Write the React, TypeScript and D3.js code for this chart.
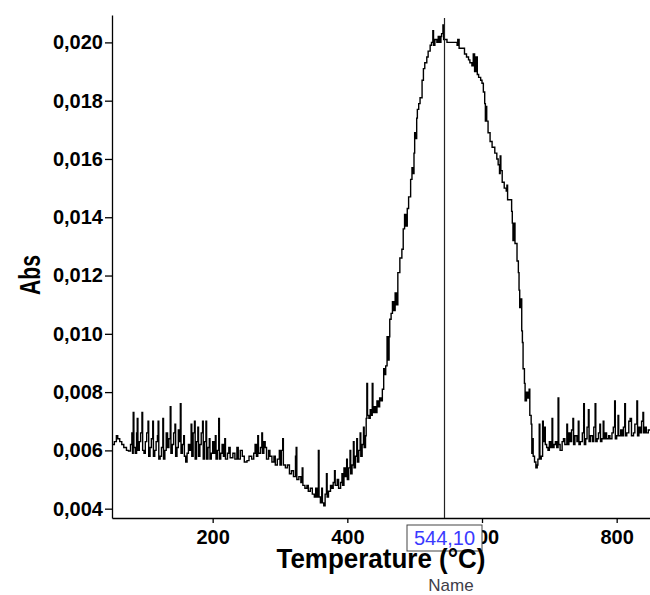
import React, { useEffect, useRef } from "react";
import * as d3 from "d3";

// temperature (°C), absorbance
const scan: [number, number][] = [
  [51, 0.0062], [54, 0.0063], [57, 0.0065], [59, 0.0064], [62, 0.0063], [65, 0.0062], [68, 0.0061], [72, 0.006],
  [75, 0.00598], [78, 0.0062], [80, 0.0066], [81, 0.0059], [82, 0.0073], [83, 0.0061], [85, 0.0059], [87, 0.0066],
  [88, 0.0071], [89, 0.006], [91, 0.0063], [93, 0.0066], [95, 0.0073], [96, 0.006], [98, 0.0059], [100, 0.0063],
  [102, 0.0066], [104, 0.007], [105, 0.0058], [107, 0.0061], [109, 0.0064], [111, 0.007], [112, 0.0058], [114, 0.006],
  [116, 0.0063], [118, 0.0065], [119, 0.007], [120, 0.0057], [122, 0.0058], [124, 0.0061], [126, 0.0071], [127, 0.0057],
  [129, 0.006], [131, 0.0066], [133, 0.0061], [135, 0.0064], [137, 0.0075], [138, 0.0059], [140, 0.0062], [142, 0.0066],
  [144, 0.0069], [145, 0.0058], [147, 0.0061], [149, 0.0067], [150, 0.0063], [152, 0.0076], [153, 0.0059], [155, 0.0062],
  [157, 0.0065], [158, 0.0058], [160, 0.0056], [162, 0.0059], [164, 0.0062], [166, 0.006], [168, 0.0069], [169, 0.0058],
  [171, 0.0066], [173, 0.007], [174, 0.0057], [176, 0.0063], [178, 0.0068], [179, 0.0058], [181, 0.0062], [183, 0.0066],
  [185, 0.007], [186, 0.0057], [188, 0.0063], [190, 0.007], [191, 0.0057], [193, 0.0061], [195, 0.0064], [196, 0.0057],
  [198, 0.0059], [200, 0.0063], [202, 0.0059], [204, 0.0065], [205, 0.0057], [207, 0.006], [209, 0.0071], [210, 0.0057],
  [212, 0.0059], [214, 0.0062], [216, 0.0058], [218, 0.0064], [219, 0.0057], [222, 0.0059], [224, 0.0061], [226, 0.00575],
  [230, 0.0059], [233, 0.0057], [236, 0.0061], [238, 0.0057], [241, 0.006], [244, 0.0058], [247, 0.0056], [251, 0.00565],
  [254, 0.0058], [258, 0.0057], [261, 0.0059], [263, 0.0062], [265, 0.0058], [267, 0.0065], [268, 0.0059], [271, 0.0061],
  [273, 0.0066], [274, 0.0059], [276, 0.0063], [278, 0.0061], [280, 0.0057], [283, 0.006], [285, 0.0058], [288, 0.0056],
  [291, 0.0058], [293, 0.0055], [296, 0.0057], [299, 0.006], [300, 0.0055], [302, 0.006], [304, 0.0064], [305, 0.0055],
  [308, 0.0054], [311, 0.0055], [314, 0.0052], [317, 0.0053], [320, 0.0051], [323, 0.0058], [324, 0.0061], [325, 0.005],
  [328, 0.0051], [331, 0.0049], [333, 0.0054], [334, 0.0048], [337, 0.0047], [340, 0.0048], [342, 0.0046], [345, 0.0047],
  [348, 0.0045], [351, 0.0044], [353, 0.0047], [355, 0.0044], [357, 0.006], [358, 0.0044], [360, 0.0042], [362, 0.0047],
  [363, 0.0042], [365, 0.0041], [367, 0.0045], [369, 0.0052], [370, 0.0044], [372, 0.0046], [375, 0.0048], [377, 0.0047],
  [379, 0.0049], [381, 0.0053], [382, 0.0048], [385, 0.005], [387, 0.0047], [390, 0.0049], [392, 0.0052], [393, 0.0048],
  [395, 0.0054], [397, 0.0051], [399, 0.0057], [400, 0.005], [402, 0.0054], [404, 0.006], [405, 0.0052], [407, 0.0055],
  [409, 0.0063], [410, 0.0054], [412, 0.0058], [414, 0.0064], [415, 0.0056], [417, 0.006], [419, 0.0066], [420, 0.0058],
  [422, 0.0062], [424, 0.0068], [425, 0.0061], [427, 0.0065], [428, 0.0071], [429, 0.0083], [430, 0.0072], [432, 0.0071],
  [434, 0.0074], [436, 0.0072], [437, 0.0083], [438, 0.0073], [440, 0.0075], [442, 0.0073], [444, 0.0077], [446, 0.0075],
  [448, 0.0078], [450, 0.0077], [452, 0.0081], [454, 0.0088], [455, 0.0086], [457, 0.0089], [459, 0.0099], [460, 0.0091],
  [462, 0.0099], [463, 0.0105], [465, 0.0107], [467, 0.0111], [469, 0.0108], [471, 0.0114], [473, 0.011], [475, 0.0121],
  [478, 0.0126], [481, 0.0129], [483, 0.0136], [485, 0.0141], [487, 0.0137], [489, 0.0143], [491, 0.0147], [494, 0.0153],
  [496, 0.0157], [497, 0.0155], [499, 0.0162], [500, 0.0169], [501, 0.0167], [503, 0.0174], [504, 0.0177], [506, 0.0179],
  [508, 0.0181], [511, 0.0187], [513, 0.0191], [515, 0.0193], [518, 0.0195], [520, 0.0197], [523, 0.0199], [525, 0.02],
  [527, 0.0204], [528, 0.0199], [530, 0.0201], [533, 0.02], [535, 0.0202], [537, 0.02], [539, 0.0202], [540, 0.0203],
  [542, 0.0206], [543, 0.0201], [545, 0.0201], [548, 0.02], [552, 0.02], [556, 0.02], [560, 0.02], [563, 0.0199],
  [564, 0.0201], [566, 0.0198], [570, 0.0198], [574, 0.0196], [577, 0.0195], [580, 0.0194], [582, 0.0193], [585, 0.0192],
  [587, 0.0196], [589, 0.019], [591, 0.0195], [593, 0.0189], [595, 0.0188], [598, 0.0187], [600, 0.0186], [602, 0.0183],
  [604, 0.0179], [605, 0.0173], [606, 0.0178], [607, 0.0173], [609, 0.0169], [612, 0.0166], [615, 0.0164], [619, 0.0162],
  [622, 0.016], [624, 0.0158], [626, 0.0155], [627, 0.0161], [628, 0.0156], [630, 0.0152], [633, 0.015], [636, 0.0149],
  [637, 0.0151], [638, 0.0146], [641, 0.0146], [644, 0.0142], [645, 0.0138], [646, 0.0132], [647, 0.0138], [649, 0.0131],
  [652, 0.0125], [654, 0.0121], [655, 0.0115], [656, 0.0109], [657, 0.0112], [659, 0.0101], [660, 0.0097], [661, 0.0088],
  [663, 0.0083], [664, 0.0077], [666, 0.008], [668, 0.0078], [670, 0.0081], [671, 0.0072], [673, 0.0069], [674, 0.0059],
  [675, 0.0064], [676, 0.0058], [678, 0.0056], [680, 0.0054], [682, 0.0055], [683, 0.0057], [685, 0.0069], [686, 0.0057],
  [688, 0.0058], [690, 0.007], [691, 0.0063], [693, 0.0068], [694, 0.0062], [696, 0.0061], [698, 0.006], [700, 0.0063],
  [702, 0.0061], [704, 0.0071], [705, 0.0061], [707, 0.0062], [709, 0.0063], [711, 0.0061], [713, 0.0078], [714, 0.0062],
  [716, 0.006], [719, 0.0063], [721, 0.0064], [723, 0.0062], [726, 0.0069], [727, 0.0062], [729, 0.0066], [731, 0.0063],
  [733, 0.0067], [735, 0.0071], [736, 0.0062], [738, 0.0065], [741, 0.0063], [743, 0.007], [744, 0.0062], [746, 0.0063],
  [749, 0.0066], [751, 0.0076], [752, 0.0062], [754, 0.0064], [756, 0.0068], [758, 0.0074], [759, 0.0063], [761, 0.0065],
  [764, 0.0063], [766, 0.0068], [768, 0.0076], [769, 0.0063], [771, 0.0064], [773, 0.0066], [775, 0.0069], [776, 0.0063],
  [778, 0.0064], [780, 0.007], [781, 0.0064], [783, 0.0066], [785, 0.0064], [788, 0.0065], [790, 0.0064], [793, 0.0066],
  [795, 0.0068], [797, 0.0077], [798, 0.0064], [800, 0.0065], [802, 0.0072], [803, 0.0065], [806, 0.0067], [808, 0.0065],
  [810, 0.0068], [812, 0.0076], [813, 0.0065], [815, 0.0066], [818, 0.007], [820, 0.0071], [822, 0.0065], [825, 0.0066],
  [827, 0.0069], [830, 0.0077], [831, 0.0065], [833, 0.0068], [835, 0.0066], [837, 0.007], [839, 0.0073], [840, 0.0066],
  [842, 0.0068], [844, 0.0066], [847, 0.0067], [850, 0.0067],
];

const xTicks = [200, 400, 600, 800];
const yTicks = [0.004, 0.006, 0.008, 0.01, 0.012, 0.014, 0.016, 0.018, 0.02];
const cursorTemp = 544.1;
const cursorLabel = "544,10";
const xTitle = "Temperature (°C)";
const yTitle = "Abs";
const seriesName = "Name";

const W = 650;
const H = 595;
const FONT = "'Liberation Sans', Arial, sans-serif";

export default function App() {
  const ref = useRef<SVGSVGElement | null>(null);

  useEffect(() => {
    const svg = d3.select(ref.current);
    svg.selectAll("*").remove();

    const x = d3.scaleLinear().domain([50.5, 849.5]).range([112, 650]);
    const y = d3.scaleLinear().domain([0.00368, 0.02094]).range([518, 15]);

    const comma = (v: number) => d3.format(".3f")(v).replace(".", ",");

    // y axis
    const gy = svg.append("g").attr("transform", `translate(${x.range()[0]},0)`)
      .call(d3.axisLeft(y).tickValues(yTicks).tickSize(7).tickSizeOuter(0).tickPadding(2).tickFormat((d: any) => comma(+d)));
    gy.selectAll("text").attr("font-family", FONT).attr("font-weight", "bold").attr("font-size", 20).attr("fill", "#000");

    // x axis
    const gx = svg.append("g").attr("transform", `translate(0,${y.range()[0]})`)
      .call(d3.axisBottom(x).tickValues(xTicks).tickSize(5).tickSizeOuter(0).tickPadding(7).tickFormat(d3.format("d")));
    gx.selectAll("text").attr("font-family", FONT).attr("font-weight", "bold").attr("font-size", 20).attr("fill", "#000");

    svg.selectAll(".domain, .tick line").attr("stroke", "#000").attr("stroke-width", 1.3);

    // curve, drawn as the instrument does: vertical steps between readings
    const line = d3.line<[number, number]>()
      .curve(d3.curveStepAfter)
      .x((d) => x(d[0]))
      .y((d) => y(d[1]));
    svg.append("path")
      .datum(scan)
      .attr("fill", "none")
      .attr("stroke", "#000")
      .attr("stroke-width", 1.4)
      .attr("d", line);

    // cursor
    const cx = Math.round(x(cursorTemp)) + 0.5;
    svg.append("line")
      .attr("x1", cx).attr("x2", cx)
      .attr("y1", 18).attr("y2", y.range()[0])
      .attr("stroke", "#222").attr("stroke-width", 1.2);

    svg.append("rect")
      .attr("x", cx - 37.5).attr("y", 525)
      .attr("width", 75).attr("height", 26)
      .attr("fill", "#fff").attr("stroke", "#444").attr("stroke-width", 1);
    svg.append("text")
      .attr("x", cx).attr("y", 545)
      .attr("text-anchor", "middle")
      .attr("font-family", FONT).attr("font-size", 20)
      .attr("fill", "#3a3aff")
      .text(cursorLabel);

    // titles
    svg.append("text")
      .attr("x", (x.range()[0] + x.range()[1]) / 2).attr("y", 568)
      .attr("text-anchor", "middle")
      .attr("font-family", FONT).attr("font-weight", "bold").attr("font-size", 28)
      .attr("textLength", 209).attr("lengthAdjust", "spacingAndGlyphs")
      .text(xTitle);

    svg.append("text")
      .attr("transform", "translate(40,275) rotate(-90)")
      .attr("text-anchor", "middle")
      .attr("font-family", FONT).attr("font-weight", "bold").attr("font-size", 30)
      .attr("textLength", 40).attr("lengthAdjust", "spacingAndGlyphs")
      .text(yTitle);

    svg.append("text")
      .attr("x", 451).attr("y", 591)
      .attr("text-anchor", "middle")
      .attr("font-family", FONT).attr("font-size", 17)
      .attr("fill", "#3d3d48")
      .text(seriesName);
  }, []);

  return (
    <svg
      ref={ref}
      width={W}
      height={H}
      viewBox={`0 0 ${W} ${H}`}
      style={{ position: "absolute", left: 0, top: 0, background: "#fff" }}
    />
  );
}
